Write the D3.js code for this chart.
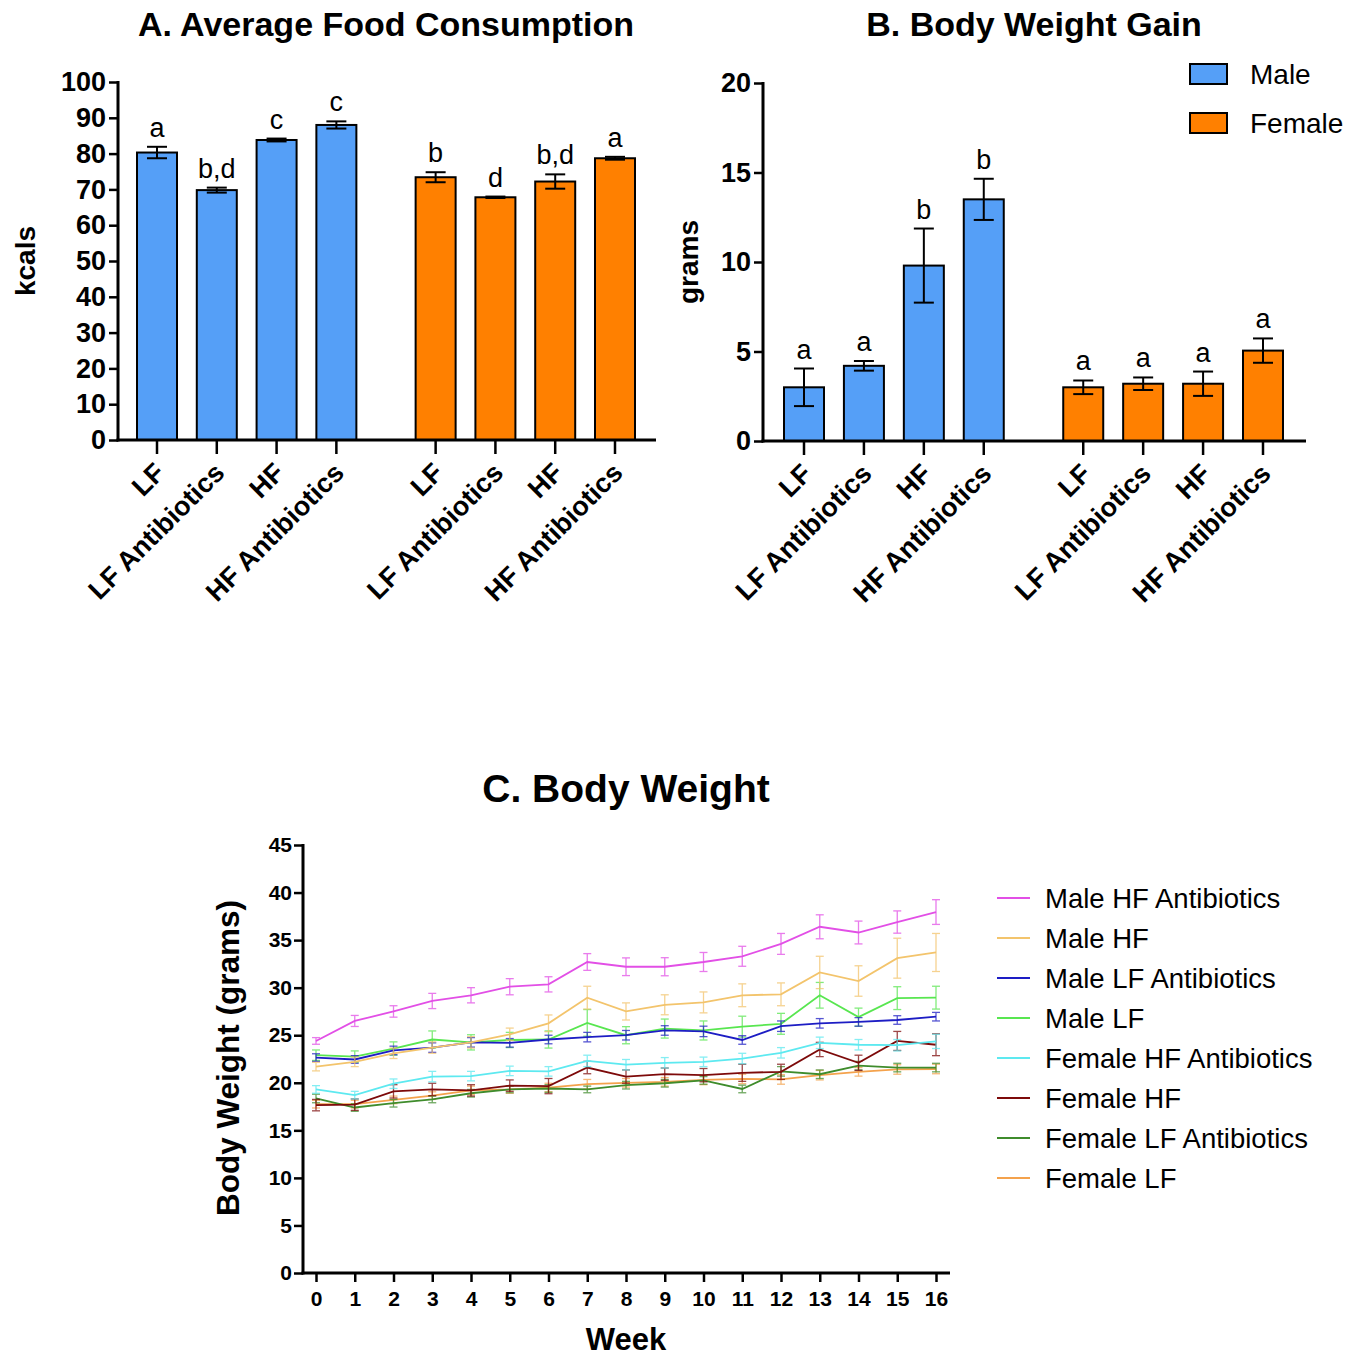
<!DOCTYPE html>
<html>
<head>
<meta charset="utf-8">
<script src="https://cdn.jsdelivr.net/npm/d3@7"></script>
<style>
  body { margin: 0; background: #fff; }
  svg { font-family: "Liberation Sans", Arial, sans-serif; }
  .axis path, .axis line { stroke: #000; }
</style>
</head>
<body>
<div id="chart"></div>
<script>
// groups shared by panel A and B
var groups = ['LF', 'LF Antibiotics', 'HF', 'HF Antibiotics'];
var sexes = ['Male', 'Female'];
var sexColors = ['#559ff7', '#ff8000'];

// A. food consumption (kcals)
var foodMale = [80.3, 69.8, 83.8, 88.0];
var foodMaleErr = [1.6, 0.7, 0.4, 1.0];
var foodFemale = [73.4, 67.8, 72.2, 78.7];
var foodFemaleErr = [1.4, 0.2, 2.0, 0.4];
var foodLetters = ['a', 'b,d', 'c', 'c', 'b', 'd', 'b,d', 'a'];

// B. body weight gain (grams)
var gainMale = [3.0, 4.2, 9.8, 13.5];
var gainMaleErr = [1.05, 0.27, 2.07, 1.15];
var gainFemale = [3.0, 3.2, 3.2, 5.05];
var gainFemaleErr = [0.38, 0.35, 0.68, 0.68];
var gainLetters = ['a', 'a', 'b', 'b', 'a', 'a', 'a', 'a'];

// C. body weight by week
var weeks = d3.range(0, 17);
var seriesNames = ['Male HF Antibiotics', 'Male HF', 'Male LF Antibiotics', 'Male LF',
  'Female HF Antibiotics', 'Female HF', 'Female LF Antibiotics', 'Female LF'];
var seriesColors = ['#e24fe6', '#f3c46c', '#1d1dc4', '#58e650', '#5de9f0', '#7d0a0a', '#3f8c2c', '#f4a24c'];
var mHFAb = [24.4, 26.5, 27.5, 28.6, 29.2, 30.1, 30.35, 32.7, 32.2, 32.2, 32.7, 33.3, 34.6, 36.4, 35.8, 36.9, 37.95];
var mHFAbErr = [0.35, 0.58, 0.6, 0.8, 0.8, 0.85, 0.8, 0.88, 0.93, 0.95, 1.0, 1.05, 1.1, 1.26, 1.2, 1.17, 1.3];
var mHF = [21.7, 22.2, 23.1, 23.7, 24.25, 25.1, 26.25, 28.95, 27.5, 28.2, 28.45, 29.2, 29.3, 31.6, 30.7, 33.1, 33.7];
var mHFErr = [0.45, 0.5, 0.55, 0.6, 0.6, 0.65, 0.88, 1.2, 0.9, 1.05, 1.1, 1.2, 1.2, 1.7, 1.6, 2.1, 2.0];
var mLFAb = [22.65, 22.45, 23.4, 23.7, 24.25, 24.2, 24.55, 24.8, 25.0, 25.5, 25.4, 24.5, 25.95, 26.25, 26.4, 26.6, 26.95];
var mLFAbErr = [0.4, 0.4, 0.45, 0.5, 0.5, 0.45, 0.45, 0.5, 0.5, 0.5, 0.55, 0.45, 0.55, 0.5, 0.45, 0.45, 0.45];
var mLF = [22.9, 22.75, 23.6, 24.55, 24.25, 24.5, 24.55, 26.3, 25.0, 25.7, 25.5, 25.9, 26.2, 29.2, 26.9, 28.9, 28.95];
var mLFErr = [0.55, 0.6, 0.7, 0.9, 0.8, 0.8, 0.9, 1.4, 0.9, 1.0, 1.0, 1.1, 1.1, 1.35, 0.95, 1.2, 1.2];
var fHFAb = [19.3, 18.7, 19.9, 20.65, 20.7, 21.25, 21.2, 22.3, 21.9, 22.1, 22.2, 22.55, 23.15, 24.2, 24.0, 23.95, 24.35];
var fHFAbErr = [0.4, 0.4, 0.5, 0.55, 0.5, 0.5, 0.5, 0.6, 0.55, 0.55, 0.5, 0.55, 0.55, 0.6, 0.55, 0.6, 0.75];
var fHF = [17.65, 17.7, 19.1, 19.3, 19.2, 19.7, 19.65, 21.6, 20.65, 20.9, 20.8, 21.05, 21.15, 23.5, 22.1, 24.4, 24.0];
var fHFErr = [0.6, 0.6, 0.7, 0.65, 0.6, 0.6, 0.8, 0.65, 0.7, 0.65, 0.7, 0.9, 0.8, 0.75, 0.8, 1.0, 1.15];
var fLFAb = [18.35, 17.4, 17.85, 18.25, 18.9, 19.3, 19.4, 19.3, 19.75, 19.95, 20.25, 19.35, 21.2, 20.9, 21.8, 21.6, 21.6];
var fLFAbErr = [0.45, 0.4, 0.4, 0.35, 0.4, 0.35, 0.4, 0.35, 0.4, 0.4, 0.4, 0.4, 0.5, 0.45, 0.45, 0.45, 0.45];
var fLF = [17.75, 17.75, 18.2, 18.65, 19.2, 19.3, 19.5, 19.85, 20.0, 20.1, 20.3, 20.4, 20.35, 20.8, 21.15, 21.4, 21.45];
var fLFErr = [0.4, 0.4, 0.4, 0.4, 0.45, 0.4, 0.45, 0.5, 0.45, 0.45, 0.5, 0.5, 0.5, 0.5, 0.45, 0.5, 0.5];
var seriesValues = [mHFAb, mHF, mLFAb, mLF, fHFAb, fHF, fLFAb, fLF];
var seriesErrors = [mHFAbErr, mHFErr, mLFAbErr, mLFErr, fHFAbErr, fHFErr, fLFAbErr, fLFErr];

var svg = d3.select('#chart').append('svg')
  .attr('width', 1361)
  .attr('height', 1358);

// bar panel helper
var drawBars = function(opt){
  var g = svg.append('g');
  var y = d3.scaleLinear().domain([0, opt.max]).range([opt.bottom, opt.top]);
  // slot index of each bar: 4 male, a gap, then 4 female
  var gap = 0.66;
  var x = d3.scaleLinear().domain([0, 7 + gap]).range([opt.first, opt.last]);
  var bars = [];
  opt.male.forEach(function(v, i){ bars.push({v: v, e: opt.maleErr[i], c: sexColors[0], slot: i, name: groups[i]}); });
  opt.female.forEach(function(v, i){ bars.push({v: v, e: opt.femaleErr[i], c: sexColors[1], slot: i + 4 + gap, name: groups[i]}); });
  var bw = 40;
  var cx = function(d){ return x(d.slot); };

  g.selectAll('rect.bar').data(bars).enter().append('rect')
    .attr('class', 'bar')
    .attr('x', function(d){ return cx(d) - bw / 2; })
    .attr('width', bw)
    .attr('y', function(d){ return y(d.v); })
    .attr('height', function(d){ return y(0) - y(d.v); })
    .style('fill', function(d){ return d.c; })
    .style('stroke', '#000')
    .style('stroke-width', 2);

  // error bars
  var eb = g.selectAll('g.err').data(bars).enter().append('g').attr('class', 'err')
    .style('stroke', '#000').style('stroke-width', 2);
  eb.append('line')
    .attr('x1', cx).attr('x2', cx)
    .attr('y1', function(d){ return y(d.v + d.e); })
    .attr('y2', function(d){ return y(d.v - d.e); });
  [1, -1].forEach(function(sign){
    eb.append('line')
      .attr('x1', function(d){ return cx(d) - 10; }).attr('x2', function(d){ return cx(d) + 10; })
      .attr('y1', function(d){ return y(d.v + sign * d.e); }).attr('y2', function(d){ return y(d.v + sign * d.e); });
  });

  // significance letters
  g.selectAll('text.letter').data(bars).enter().append('text')
    .attr('x', cx)
    .attr('y', function(d){ return y(d.v + d.e) - 10; })
    .attr('text-anchor', 'middle')
    .style('font-size', '27px')
    .text(function(d, i){ return opt.letters[i]; });

  // y axis
  var ya = g.append('g').attr('class', 'axis')
    .attr('transform', 'translate(' + opt.left + ',0)')
    .call(d3.axisLeft(y).tickValues(opt.ticks).tickSize(9).tickPadding(3));
  ya.select('.domain').style('stroke-width', 3).attr('d', 'M0,' + (opt.top - 1) + 'V' + (opt.bottom + 1.5));
  ya.selectAll('.tick line').style('stroke-width', 2.5);
  ya.selectAll('.tick text').style('font-size', opt.tickFont).style('font-weight', 'bold').style('fill', '#000');

  // x axis
  g.append('line')
    .attr('x1', opt.left - 1.5).attr('x2', opt.right)
    .attr('y1', opt.bottom).attr('y2', opt.bottom)
    .style('stroke', '#000').style('stroke-width', 3);
  g.selectAll('line.xt').data(bars).enter().append('line')
    .attr('x1', cx).attr('x2', cx)
    .attr('y1', opt.bottom).attr('y2', opt.bottom + 14)
    .style('stroke', '#000').style('stroke-width', 2.5);
  g.selectAll('text.xl').data(bars).enter().append('text')
    .attr('transform', function(d){ return 'translate(' + (cx(d) - 4) + ',' + (opt.bottom + 21) + ') rotate(-45)'; })
    .attr('text-anchor', 'end')
    .attr('dy', '0.7em')
    .style('font-size', '27px')
    .style('font-weight', 'bold')
    .text(function(d){ return d.name; });

  // titles
  g.append('text')
    .attr('x', opt.titleX).attr('y', 36)
    .attr('text-anchor', 'middle')
    .style('font-size', '34px').style('font-weight', 'bold')
    .text(opt.title);
  g.append('text')
    .attr('transform', 'translate(' + opt.ylabX + ',' + ((opt.top + opt.bottom) / 2) + ') rotate(-90)')
    .attr('text-anchor', 'middle')
    .style('font-size', '28px').style('font-weight', 'bold')
    .text(opt.ylab);
};

drawBars({
  left: 118, right: 656, top: 82, bottom: 440, max: 100, first: 157, last: 615,
  ticks: d3.range(0, 101, 10), tickFont: '27px',
  male: foodMale, maleErr: foodMaleErr, female: foodFemale, femaleErr: foodFemaleErr,
  letters: foodLetters, title: 'A. Average Food Consumption', titleX: 386,
  ylab: 'kcals', ylabX: 35
});

drawBars({
  left: 763, right: 1306, top: 83, bottom: 441, max: 20, first: 804, last: 1263,
  ticks: [0, 5, 10, 15, 20], tickFont: '27px',
  male: gainMale, maleErr: gainMaleErr, female: gainFemale, femaleErr: gainFemaleErr,
  letters: gainLetters, title: 'B. Body Weight Gain', titleX: 1034,
  ylab: 'grams', ylabX: 698
});

// legend for bars
var leg = svg.append('g');
sexes.forEach(function(s, i){
  leg.append('rect')
    .attr('x', 1190).attr('y', 64 + i * 49)
    .attr('width', 37).attr('height', 20)
    .style('fill', sexColors[i]).style('stroke', '#000').style('stroke-width', 2);
  leg.append('text')
    .attr('x', 1250).attr('y', 84 + i * 49)
    .style('font-size', '28px')
    .text(s);
});

// C. line chart
var cLeft = 303, cRight = 950, cTop = 845, cBottom = 1273;
var xc = d3.scaleLinear().domain([0, 16]).range([316, 936]);
var yc = d3.scaleLinear().domain([0, 45]).range([cBottom, cTop]);
var gc = svg.append('g');

var ya = gc.append('g').attr('class', 'axis')
  .attr('transform', 'translate(' + cLeft + ',0)')
  .call(d3.axisLeft(yc).tickValues(d3.range(0, 46, 5)).tickSize(9).tickPadding(2));
ya.select('.domain').style('stroke-width', 3).attr('d', 'M0,' + (cTop - 1) + 'V' + (cBottom + 1.5));
ya.selectAll('.tick line').style('stroke-width', 2.5);
ya.selectAll('.tick text').style('font-size', '21px').style('font-weight', 'bold').style('fill', '#000');

var xa = gc.append('g').attr('class', 'axis')
  .attr('transform', 'translate(0,' + cBottom + ')')
  .call(d3.axisBottom(xc).tickValues(weeks).tickSize(9).tickPadding(9));
xa.select('.domain').style('stroke-width', 3).attr('d', 'M' + (cLeft - 1.5) + ',0H' + cRight);
xa.selectAll('.tick line').style('stroke-width', 2.5);
xa.selectAll('.tick text').style('font-size', '21px').style('font-weight', 'bold').style('fill', '#000');

var series = seriesNames.map(function(n, i){
  return {name: n, color: seriesColors[i], pts: weeks.map(function(w, j){
    return {w: w, v: seriesValues[i][j], e: seriesErrors[i][j]};
  })};
});

var line = d3.line().x(function(d){ return xc(d.w); }).y(function(d){ return yc(d.v); });

// draw from back to front so the top legend entries sit above
var sg = gc.selectAll('g.series').data(series.slice().reverse()).enter().append('g').attr('class', 'series');
sg.each(function(s){
  var g = d3.select(this);
  var eg = g.selectAll('g.e').data(s.pts).enter().append('g')
    .style('stroke', s.color).style('stroke-width', 1.3).style('opacity', 0.75);
  eg.append('line')
    .attr('x1', function(d){ return xc(d.w); }).attr('x2', function(d){ return xc(d.w); })
    .attr('y1', function(d){ return yc(d.v + d.e); }).attr('y2', function(d){ return yc(d.v - d.e); });
  [1, -1].forEach(function(sign){
    eg.append('line')
      .attr('x1', function(d){ return xc(d.w) - 4; }).attr('x2', function(d){ return xc(d.w) + 4; })
      .attr('y1', function(d){ return yc(d.v + sign * d.e); }).attr('y2', function(d){ return yc(d.v + sign * d.e); });
  });
  g.append('path')
    .datum(s.pts)
    .attr('d', line)
    .style('fill', 'none')
    .style('stroke', s.color)
    .style('stroke-width', 1.8);
});

gc.append('text')
  .attr('x', 626).attr('y', 802)
  .attr('text-anchor', 'middle')
  .style('font-size', '39px').style('font-weight', 'bold')
  .text('C. Body Weight');
gc.append('text')
  .attr('x', 626).attr('y', 1350)
  .attr('text-anchor', 'middle')
  .style('font-size', '31px').style('font-weight', 'bold')
  .text('Week');
gc.append('text')
  .attr('transform', 'translate(239,1058) rotate(-90)')
  .attr('text-anchor', 'middle')
  .style('font-size', '31.5px').style('font-weight', 'bold')
  .text('Body Weight (grams)');

// line legend
var lg = gc.selectAll('g.lleg').data(series).enter().append('g')
  .attr('transform', function(d, i){ return 'translate(997,' + (898 + i * 40) + ')'; });
lg.append('line')
  .attr('x1', 0).attr('x2', 33).attr('y1', 0).attr('y2', 0)
  .style('stroke', function(d){ return d.color; }).style('stroke-width', 1.8);
lg.append('text')
  .attr('x', 48).attr('y', 10)
  .style('font-size', '27.5px')
  .text(function(d){ return d.name; });
</script>
</body>
</html>
